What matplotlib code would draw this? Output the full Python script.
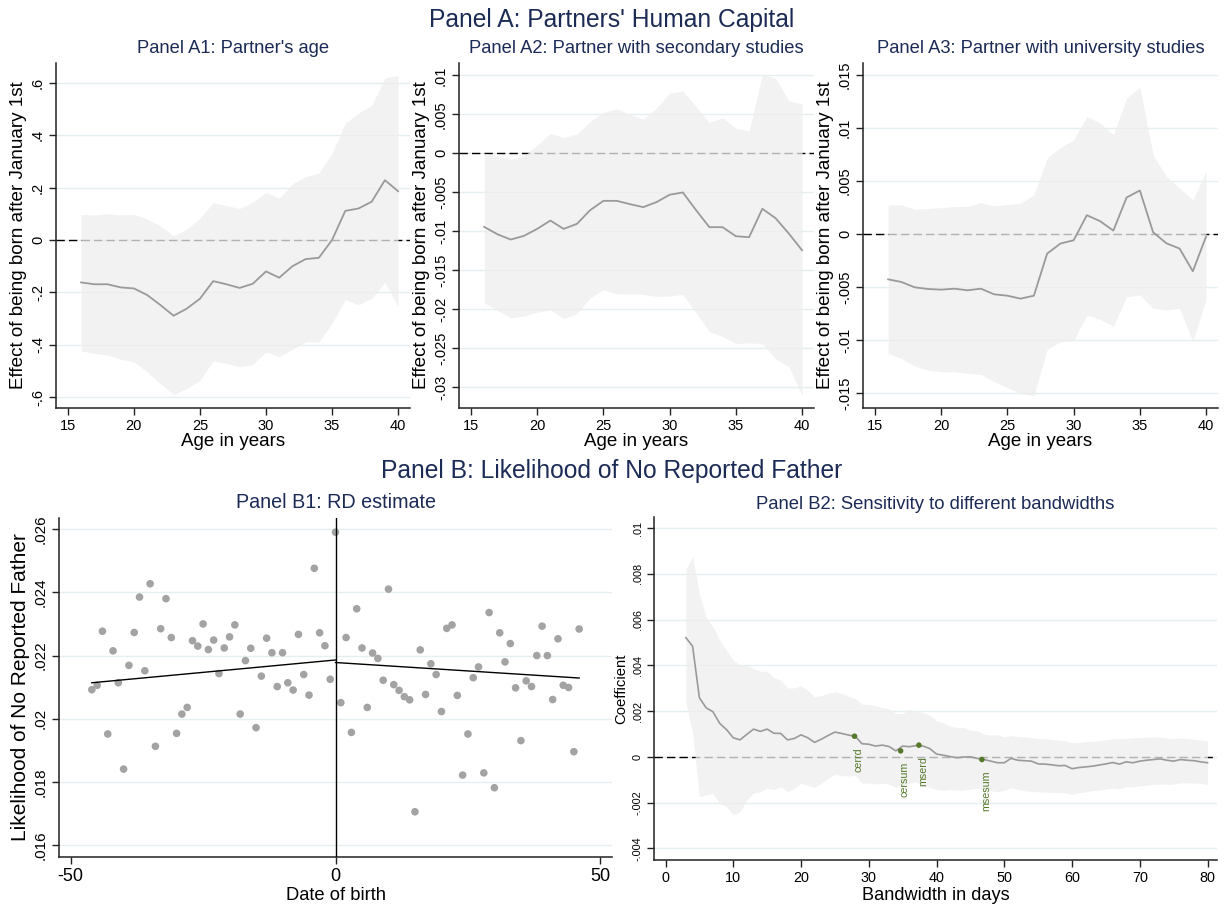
import matplotlib
matplotlib.use("Agg")
import matplotlib.pyplot as plt
import numpy as np

plt.rcParams['font.family'] = ['Liberation Sans', 'DejaVu Sans']

# ---------------- DATA ----------------
ages = list(range(16, 41))

a1_coef = [-0.162, -0.169, -0.169, -0.181, -0.185, -0.210, -0.248, -0.289, -0.262, -0.224,
           -0.157, -0.169, -0.183, -0.167, -0.120, -0.144, -0.100, -0.073, -0.068, 0.000,
           0.111, 0.120, 0.146, 0.228, 0.186]
a1_hi = [0.096, 0.096, 0.100, 0.096, 0.098, 0.080, 0.054, 0.015, 0.042, 0.083,
         0.143, 0.131, 0.120, 0.144, 0.182, 0.159, 0.214, 0.242, 0.255, 0.331,
         0.446, 0.484, 0.513, 0.618, 0.628]
a1_lo = [-0.423, -0.433, -0.439, -0.455, -0.465, -0.503, -0.548, -0.590, -0.567, -0.535,
         -0.461, -0.471, -0.484, -0.475, -0.427, -0.446, -0.417, -0.389, -0.389, -0.318,
         -0.227, -0.248, -0.223, -0.162, -0.255]

a2_coef = [-0.00944, -0.01039, -0.01107, -0.01060, -0.00970, -0.00863, -0.00970, -0.00906, -0.00730, -0.00610,
           -0.00610, -0.00652, -0.00691, -0.00627, -0.00532, -0.00502, -0.00730, -0.00948, -0.00948, -0.01064,
           -0.01077, -0.00712, -0.00833, -0.01030, -0.01245]
a2_hi = [0.00000, -0.00034, -0.00077, -0.00034, 0.00107, 0.00258, 0.00202, 0.00249, 0.00408, 0.00524,
         0.00571, 0.00502, 0.00438, 0.00580, 0.00773, 0.00803, 0.00600, 0.00395, 0.00459, 0.00322,
         0.00288, 0.01009, 0.00966, 0.00674, 0.00631]
a2_lo = [-0.01918, -0.02017, -0.02112, -0.02090, -0.02039, -0.02009, -0.02124, -0.02060, -0.01854, -0.01751,
         -0.01803, -0.01807, -0.01811, -0.01837, -0.01833, -0.01811, -0.02052, -0.02288, -0.02352, -0.02442,
         -0.02433, -0.02446, -0.02640, -0.02738, -0.03112]

a3_coef = [-0.00428, -0.00453, -0.00503, -0.00519, -0.00525, -0.00516, -0.00531, -0.00516, -0.00569, -0.00582,
           -0.00610, -0.00582, -0.00186, -0.00091, -0.00060, 0.00176, 0.00120, 0.00031, 0.00343, 0.00409,
           0.00016, -0.00088, -0.00138, -0.00352, -0.00025]
a3_hi = [0.00274, 0.00274, 0.00233, 0.00239, 0.00248, 0.00258, 0.00258, 0.00296, 0.00264, 0.00277,
         0.00289, 0.00368, 0.00714, 0.00814, 0.00887, 0.01107, 0.01044, 0.00934, 0.01280, 0.01384,
         0.00745, 0.00541, 0.00431, 0.00321, 0.00588]
a3_lo = [-0.01126, -0.01173, -0.01245, -0.01283, -0.01299, -0.01299, -0.01314, -0.01324, -0.01393, -0.01447,
         -0.01503, -0.01525, -0.01088, -0.01016, -0.01006, -0.00764, -0.00805, -0.00868, -0.00591, -0.00575,
         -0.00701, -0.00717, -0.00701, -0.01016, -0.00616]

b1_days = list(range(-46, 47))
b1_vals = [0.02092, 0.02106, 0.02277, 0.01952, 0.02215, 0.02114, 0.01841, 0.02169, 0.02273, 0.02385,
           0.02152, 0.02427, 0.01913, 0.02285, 0.02380, 0.02257, 0.01954, 0.02015, 0.02036, 0.02247,
           0.02230, 0.02300, 0.02219, 0.02249, 0.02143, 0.02224, 0.02259, 0.02297, 0.02015, 0.02184,
           0.02223, 0.01972, 0.02135, 0.02255, 0.02209, 0.02102, 0.02209, 0.02114, 0.02091, 0.02267,
           0.02140, 0.02075, 0.02476, 0.02272, 0.02231, 0.02125,
           0.02590,
           0.02051, 0.02257, 0.01957, 0.02348, 0.02224, 0.02036, 0.02208, 0.02191, 0.02122, 0.02410,
           0.02108, 0.02090, 0.02070, 0.02060, 0.01706, 0.02218, 0.02077, 0.02174, 0.02140, 0.02023,
           0.02286, 0.02297, 0.02074, 0.01822, 0.01952, 0.02130, 0.02164, 0.01829, 0.02336, 0.01782,
           0.02272, 0.02180, 0.02238, 0.02098, 0.01931, 0.02120, 0.02102, 0.02200, 0.02293, 0.02200,
           0.02061, 0.02253, 0.02106, 0.02099, 0.01896, 0.02284]
b1_left_fit_x = [-46, 0]
b1_left_fit_y = [0.02114, 0.02186]
b1_right_fit_x = [0, 46]
b1_right_fit_y = [0.02178, 0.02129]

bw = list(range(3, 81))
b2_coef = [0.00521, 0.00483, 0.00258, 0.00214, 0.00197, 0.00146, 0.00119, 0.00083, 0.00074, 0.00098,
           0.00121, 0.00111, 0.00121, 0.00103, 0.00102, 0.00074, 0.00080, 0.00096, 0.00083, 0.00063,
           0.00077, 0.00093, 0.00108, 0.00102, 0.00095, 0.00090, 0.00057, 0.00055, 0.00047, 0.00051,
           0.00045, 0.00026, 0.00047, 0.00044, 0.00049, 0.00047, 0.00036, 0.00012, 0.00007, 0.00001,
           -0.00004, -0.00001, 0.00000, -0.00007, -0.00012, -0.00019, -0.00026, -0.00026, -0.00007, -0.00015,
           -0.00017, -0.00019, -0.00031, -0.00032, -0.00035, -0.00039, -0.00038, -0.00052, -0.00047, -0.00044,
           -0.00041, -0.00036, -0.00031, -0.00025, -0.00032, -0.00022, -0.00026, -0.00019, -0.00015, -0.00012,
           -0.00009, -0.00015, -0.00019, -0.00012, -0.00015, -0.00017, -0.00022, -0.00026]
b2_hi = [0.00818, 0.00876, 0.00713, 0.00611, 0.00568, 0.00509, 0.00466, 0.00423, 0.00399, 0.00399,
         0.00386, 0.00374, 0.00374, 0.00346, 0.00335, 0.00301, 0.00301, 0.00310, 0.00291, 0.00262,
         0.00268, 0.00277, 0.00284, 0.00277, 0.00265, 0.00255, 0.00230, 0.00229, 0.00223, 0.00214,
         0.00210, 0.00189, 0.00189, 0.00207, 0.00199, 0.00194, 0.00182, 0.00157, 0.00148, 0.00135,
         0.00128, 0.00128, 0.00116, 0.00114, 0.00099, 0.00095, 0.00096, 0.00087, 0.00093, 0.00089,
         0.00087, 0.00084, 0.00080, 0.00079, 0.00076, 0.00073, 0.00070, 0.00061, 0.00063, 0.00066,
         0.00068, 0.00071, 0.00074, 0.00079, 0.00079, 0.00080, 0.00083, 0.00084, 0.00086, 0.00087,
         0.00086, 0.00082, 0.00079, 0.00083, 0.00080, 0.00077, 0.00073, 0.00070]
b2_lo = [0.00240, 0.00100, -0.00175, -0.00167, -0.00160, -0.00204, -0.00218, -0.00255, -0.00240, -0.00189,
         -0.00157, -0.00153, -0.00138, -0.00143, -0.00131, -0.00153, -0.00138, -0.00116, -0.00124, -0.00134,
         -0.00116, -0.00095, -0.00076, -0.00082, -0.00084, -0.00080, -0.00116, -0.00114, -0.00119, -0.00116,
         -0.00119, -0.00134, -0.00124, -0.00116, -0.00109, -0.00128, -0.00134, -0.00143, -0.00146, -0.00143,
         -0.00146, -0.00146, -0.00141, -0.00138, -0.00143, -0.00148, -0.00153, -0.00146, -0.00134, -0.00143,
         -0.00148, -0.00151, -0.00153, -0.00154, -0.00156, -0.00157, -0.00157, -0.00164, -0.00157, -0.00153,
         -0.00148, -0.00146, -0.00141, -0.00137, -0.00140, -0.00131, -0.00131, -0.00127, -0.00124, -0.00121,
         -0.00119, -0.00121, -0.00119, -0.00114, -0.00114, -0.00115, -0.00116, -0.00121]

b2_opt_names = ["cerrd", "cersum", "mserd", "msesum"]
b2_opt_bw = [27.9, 34.7, 37.4, 46.7]
b2_opt_coef = [0.00090, 0.00026, 0.00051, -0.00012]

a_xticks = [15, 20, 25, 30, 35, 40]
a1_yticks = [-0.6, -0.4, -0.2, 0, 0.2, 0.4, 0.6]
a1_ylabels = ["-.6", "-.4", "-.2", "0", ".2", ".4", ".6"]
a2_yticks = [-0.03, -0.025, -0.02, -0.015, -0.01, -0.005, 0, 0.005, 0.01]
a2_ylabels = ["-.03", "-.025", "-.02", "-.015", "-.01", "-.005", "0", ".005", ".01"]
a3_yticks = [-0.015, -0.01, -0.005, 0, 0.005, 0.01, 0.015]
a3_ylabels = ["-.015", "-.01", "-.005", "0", ".005", ".01", ".015"]
b1_xticks = [-50, 0, 50]
b1_yticks = [0.016, 0.018, 0.02, 0.022, 0.024, 0.026]
b1_ylabels = [".016", ".018", ".02", ".022", ".024", ".026"]
b2_xticks = [0, 10, 20, 30, 40, 50, 60, 70, 80]
b2_yticks = [-0.004, -0.002, 0, 0.002, 0.004, 0.006, 0.008, 0.01]
b2_ylabels = ["-.004", "-.002", "0", ".002", ".004", ".006", ".008", ".01"]

# ---------------- STYLE ----------------
W, H = 1225, 907
NAVY = '#1c2b56'
GRID = '#e6eef0'
BAND = (0.935, 0.935, 0.935)
LINE = '#9a9a9a'
SPINE = '#222222'
GREEN = '#55792a'

fig = plt.figure(figsize=(W / 100, H / 100), dpi=100)
fig.patch.set_facecolor('white')


def rect(l, t, r, b):
    return [l / W, 1 - b / H, (r - l) / W, (b - t) / H]


def style(ax, xticks, yticks, ylabels, xlim, ylim, tick_fs, ytick_fs):
    ax.set_xlim(*xlim)
    ax.set_ylim(*ylim)
    for s in ['top', 'right']:
        ax.spines[s].set_visible(False)
    for s in ['left', 'bottom']:
        ax.spines[s].set_color(SPINE)
        ax.spines[s].set_linewidth(1.1)
    ax.set_xticks(xticks)
    ax.set_xticklabels([str(v) for v in xticks], fontsize=tick_fs)
    ax.set_yticks(yticks)
    ax.set_yticklabels(ylabels, fontsize=ytick_fs, rotation=90, va='center')
    ax.tick_params(axis='both', direction='out', length=5, width=1.0, color=SPINE)
    ax.tick_params(axis='x', pad=3)
    ax.tick_params(axis='y', pad=3)
    for y in yticks:
        ax.axhline(y, color=GRID, lw=1.0, zorder=0)


def panel_a(ax, x, coef, lo, hi, yticks, ylabels, ylim, title):
    ax.axhline(0, color='black', lw=1.0, ls=(0, (6, 3)), zorder=1)
    ax.fill_between(x, lo, hi, color=BAND, alpha=0.75, lw=0, zorder=2)
    ax.plot(x, coef, color=LINE, lw=1.3, zorder=3)
    style(ax, a_xticks, yticks, ylabels, (14.1, 40.9), ylim, 10.5, 10.5)
    ax.set_xlabel("Age in years", fontsize=13.5, labelpad=0)
    ax.set_ylabel("Effect of being born after January 1st", fontsize=13.6, labelpad=3)
    ax.set_title(title, fontsize=13.2, color=NAVY, pad=7)


ax1 = fig.add_axes(rect(56, 63, 410, 408))
panel_a(ax1, ages, a1_coef, a1_lo, a1_hi, a1_yticks, a1_ylabels, (-0.641, 0.675),
        "Panel A1: Partner's age")
ax2 = fig.add_axes(rect(459, 63, 814, 408))
panel_a(ax2, ages, a2_coef, a2_lo, a2_hi, a2_yticks, a2_ylabels, (-0.0327, 0.0116),
        "Panel A2: Partner with secondary studies")
ax3 = fig.add_axes(rect(863, 63, 1218, 408))
panel_a(ax3, ages, a3_coef, a3_lo, a3_hi, a3_yticks, a3_ylabels, (-0.0164, 0.0161),
        "Panel A3: Partner with university studies")

fig.text(612 / W, 1 - 20 / H, "Panel A: Partners' Human Capital", fontsize=17.7,
         color=NAVY, ha='center', va='center')
fig.text(612 / W, 1 - 471 / H, "Panel B: Likelihood of No Reported Father", fontsize=17.7,
         color=NAVY, ha='center', va='center')

# ---- B1 ----
bx1 = fig.add_axes(rect(59, 518, 612, 857))
style(bx1, b1_xticks, b1_yticks, b1_ylabels, (-52.2, 52.2), (0.01563, 0.02635), 13, 11)
bx1.scatter(b1_days, b1_vals, s=30, color='#a3a3a3', edgecolors='none', zorder=3)
bx1.plot(b1_left_fit_x, b1_left_fit_y, color='black', lw=1.0, zorder=4)
bx1.plot(b1_right_fit_x, b1_right_fit_y, color='black', lw=1.0, zorder=4)
bx1.axvline(0, color='black', lw=1.0, zorder=4)
bx1.set_xlabel("Date of birth", fontsize=13.2, labelpad=1)
bx1.set_ylabel("Likelihood of No Reported Father", fontsize=15, labelpad=3)
bx1.set_title("Panel B1: RD estimate", fontsize=14.2, color=NAVY, pad=7)

# ---- B2 ----
bx2 = fig.add_axes(rect(654, 517, 1217, 860))
style(bx2, b2_xticks, b2_yticks, b2_ylabels, (-1.7, 81.4), (-0.00451, 0.01048), 10.4, 7.8)
bx2.axhline(0, color='black', lw=1.0, ls=(0, (6, 3)), zorder=1)
bx2.fill_between(bw, b2_lo, b2_hi, color=BAND, alpha=0.75, lw=0, zorder=2)
bx2.plot(bw, b2_coef, color=LINE, lw=1.2, zorder=3)
bx2.scatter(b2_opt_bw, b2_opt_coef, s=16, color=GREEN, edgecolors='none', zorder=4)
for name, xv, yv in zip(b2_opt_names, b2_opt_bw, b2_opt_coef):
    bx2.annotate(name, (xv, yv), xytext=(3, -8), textcoords='offset points',
                 rotation=90, ha='center', va='top', fontsize=7.7, color=GREEN)
bx2.set_xlabel("Bandwidth in days", fontsize=13.1, labelpad=1)
bx2.set_ylabel("Coefficient", fontsize=10.7, labelpad=3)
bx2.set_title("Panel B2: Sensitivity to different bandwidths", fontsize=13.3, color=NAVY, pad=6)

fig.savefig("out.png", dpi=100, facecolor='white')
